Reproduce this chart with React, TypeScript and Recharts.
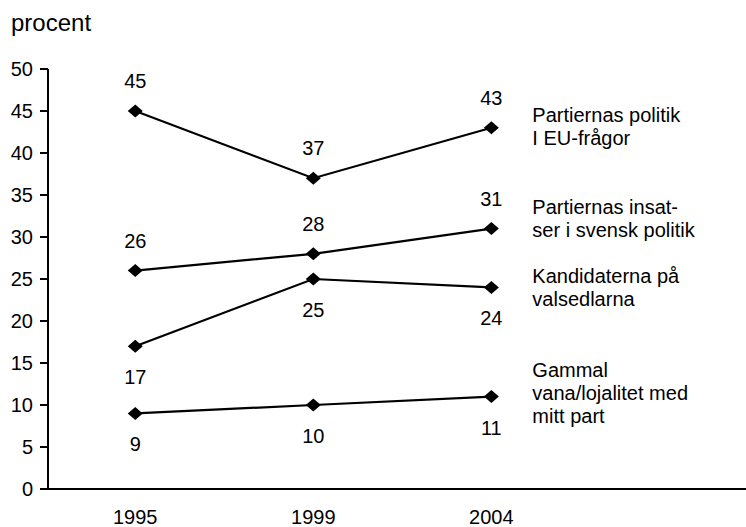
import React from "react";
import { LineChart, Line, XAxis, YAxis } from "recharts";

// Survey years (x categories)
const years = ["1995", "1999", "2004"];

// Per-series values (percent)
const euPolitik = [45, 37, 43];
const insatser = [26, 28, 31];
const kandidater = [17, 25, 24];
const gammalVana = [9, 10, 11];

const yTicks = [0, 5, 10, 15, 20, 25, 30, 35, 40, 45, 50];

const FONT = '"Liberation Sans", Arial, sans-serif';
const FONT_SIZE = 20;

type SeriesCfg = {
    key: string;
    values: number[];
    labelSide: "above" | "below";
    name: string[];
    nameShift: number;
};

const series: SeriesCfg[] = [
    { key: "eu", values: euPolitik, labelSide: "above", name: ["Partiernas politik", "I EU-frågor"], nameShift: -13 },
    { key: "insatser", values: insatser, labelSide: "above", name: ["Partiernas insat-", "ser i svensk politik"], nameShift: -22 },
    { key: "kandidater", values: kandidater, labelSide: "below", name: ["Kandidaterna på", "valsedlarna"], nameShift: -11 },
    { key: "vana", values: gammalVana, labelSide: "below", name: ["Gammal", "vana/lojalitet med", "mitt part"], nameShift: -27 },
];

const data = years.map((year, i) => {
    const row: Record<string, number | string> = { x: i, year };
    series.forEach((s) => {
        row[s.key] = s.values[i];
    });
    return row;
});

const Diamond = (props: any) => {
    const { cx, cy } = props;
    if (cx == null || cy == null) return <g />;
    return (
        <path
            d={`M${cx},${cy - 6.5} L${cx + 7.5},${cy} L${cx},${cy + 6.5} L${cx - 7.5},${cy} Z`}
            fill="#000"
            stroke="none"
        />
    );
};

const makeLabel = (s: SeriesCfg) => (props: any) => {
    const { x, y, value, index } = props;
    const dy = s.labelSide === "above" ? -30 : 31;
    const isLast = index === s.values.length - 1;
    return (
        <g>
            <text
                x={x}
                y={y + dy}
                textAnchor="middle"
                dominantBaseline="central"
                fontFamily={FONT}
                fontSize={FONT_SIZE}
                fill="#000"
            >
                {value}
            </text>
            {isLast &&
                s.name.map((line, li) => (
                    <text
                        key={li}
                        x={x + 41}
                        y={y + s.nameShift + li * 23}
                        dominantBaseline="central"
                        fontFamily={FONT}
                        fontSize={FONT_SIZE}
                        fill="#000"
                    >
                        {line}
                    </text>
                ))}
        </g>
    );
};

const XTick = (props: any) => {
    const { x, y, payload } = props;
    return (
        <text
            x={x}
            y={y + 28}
            textAnchor="middle"
            dominantBaseline="central"
            fontFamily={FONT}
            fontSize={FONT_SIZE}
            fill="#000"
        >
            {years[payload.value]}
        </text>
    );
};

export default function App() {
    return (
        <div style={{ position: "absolute", left: 0, top: 0, width: 746, height: 527, background: "#fff" }}>
            <div
                style={{
                    position: "absolute",
                    left: 11,
                    top: 9,
                    fontFamily: FONT,
                    fontSize: 24,
                    lineHeight: "28px",
                    color: "#000",
                }}
            >
                procent
            </div>
            <LineChart
                width={746}
                height={527}
                data={data}
                margin={{ top: 69, right: 0, bottom: 0, left: 0 }}
            >
                <XAxis
                    dataKey="x"
                    type="number"
                    domain={[-0.49, 3.43]}
                    ticks={[0, 1, 2]}
                    height={38}
                    tickSize={0}
                    tickMargin={0}
                    tickLine={false}
                    axisLine={{ stroke: "#000", strokeWidth: 2 }}
                    tick={<XTick />}
                />
                <YAxis
                    domain={[0, 50]}
                    ticks={yTicks}
                    width={48}
                    tickSize={8}
                    tickMargin={7}
                    interval={0}
                    axisLine={{ stroke: "#000", strokeWidth: 2 }}
                    tickLine={{ stroke: "#000", strokeWidth: 2 }}
                    tick={{ fontSize: FONT_SIZE, fill: "#000", fontFamily: FONT }}
                />
                {series.map((s) => (
                    <Line
                        key={s.key}
                        dataKey={s.key}
                        type="linear"
                        stroke="#000"
                        strokeWidth={2.2}
                        dot={<Diamond />}
                        activeDot={false}
                        label={makeLabel(s)}
                        isAnimationActive={false}
                    />
                ))}
            </LineChart>
        </div>
    );
}
